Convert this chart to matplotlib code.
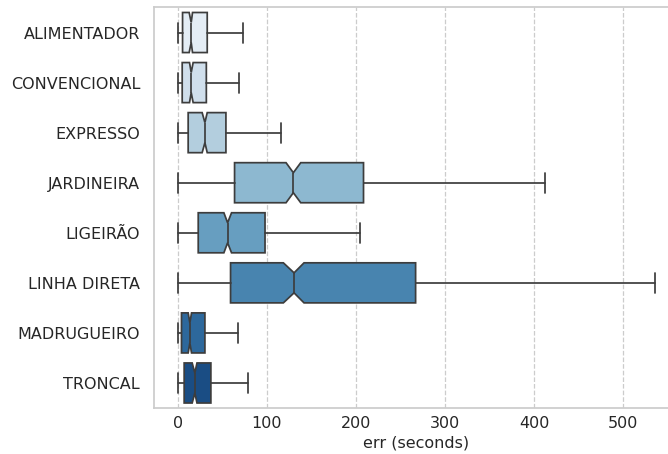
import matplotlib
matplotlib.use("Agg")
import matplotlib.pyplot as plt
import seaborn as sns

categories = ["ALIMENTADOR", "CONVENCIONAL", "EXPRESSO", "JARDINEIRA",
              "LIGEIRÃO", "LINHA DIRETA", "MADRUGUEIRO", "TRONCAL"]
whis_lo = [0, 0, 0, 0, 0, 0, 0, 0]
q1 = [5.3, 4.9, 11.6, 63.7, 22.9, 59.2, 4.1, 7.1]
median = [15, 15, 30.4, 129.7, 55.9, 130.5, 13.5, 19.1]
q3 = [33, 32, 54, 208.5, 97.9, 267, 30.4, 37.1]
whis_hi = [73, 69, 116, 412, 204.7, 536, 67.8, 78.3]
notch_lo = [12.7, 13.1, 27.3, 121.5, 51.7, 118.5, 11.6, 16.1]
notch_hi = [16.5, 17.2, 33.0, 138.0, 60.3, 141.7, 15.4, 21.5]

sns.set_theme(style="whitegrid")
plt.rcParams['font.family'] = ['DejaVu Sans']

colors = sns.color_palette("Blues", len(categories), desat=0.75)
line_c = (0.24, 0.24, 0.24)

stats = []
for i, name in enumerate(categories):
    stats.append(dict(label=name, whislo=whis_lo[i], q1=q1[i], med=median[i],
                      q3=q3[i], whishi=whis_hi[i], cilo=notch_lo[i],
                      cihi=notch_hi[i], fliers=[]))

fig = plt.figure(figsize=(6.68, 4.54), dpi=100)
ax = fig.add_axes([0.2305, 0.1013, 0.7860, 0.8822])

lw = 1.25
bp = ax.bxp(stats, positions=range(len(categories)), widths=0.8, vert=False,
            shownotches=True, patch_artist=True, showfliers=False,
            capwidths=0.4,
            boxprops=dict(edgecolor=line_c, linewidth=lw),
            whiskerprops=dict(color=line_c, linewidth=lw),
            capprops=dict(color=line_c, linewidth=lw),
            medianprops=dict(color=line_c, linewidth=lw))
for patch, c in zip(bp["boxes"], colors):
    patch.set_facecolor(c)

ax.set_xlim(-26.8, 562.8)
ax.set_ylim(7.5, -0.5)
ax.set_yticks(range(len(categories)))
ax.set_yticklabels(categories)
ax.set_xticks([0, 100, 200, 300, 400, 500])
ax.tick_params(axis="both", labelsize=11.5, colors="#262626", length=0)
ax.tick_params(axis="x", pad=6)
ax.tick_params(axis="y", pad=10)
ax.set_xlabel("err (seconds)", fontsize=11.5, color="#262626", labelpad=3)
ax.grid(axis="y", visible=False)
ax.grid(axis="x", linestyle="--", color="#cccccc", linewidth=0.9)
ax.set_axisbelow(True)
for s in ax.spines.values():
    s.set_color("#cccccc")

fig.savefig("out.png", dpi=100)
